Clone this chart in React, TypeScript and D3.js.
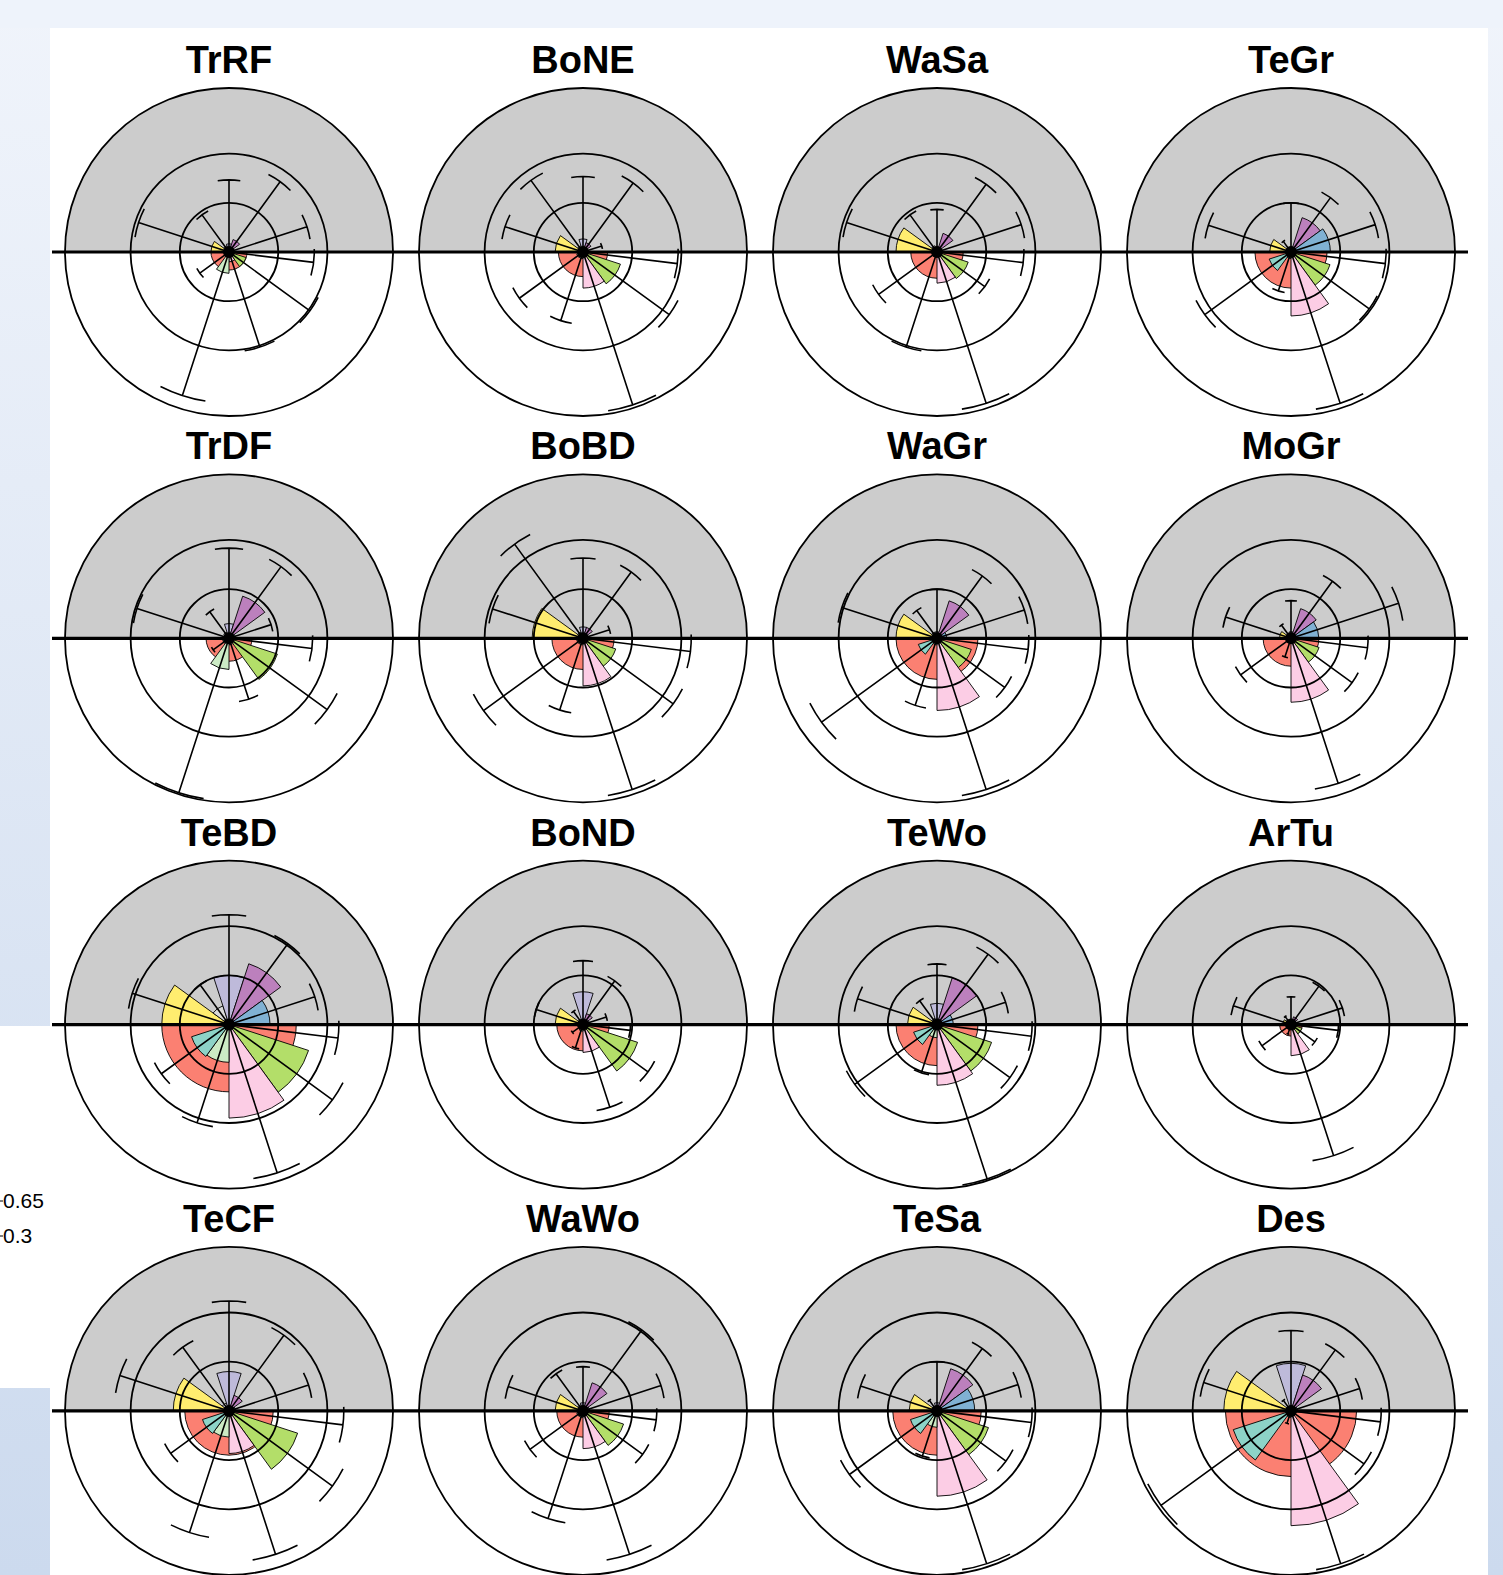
import React from "react";
import * as d3 from "d3";

// biome panels, read left-to-right, top-to-bottom
const biomes = ["TrRF", "BoNE", "WaSa", "TeGr", "TrDF", "BoBD", "WaGr", "MoGr",
  "TeBD", "BoND", "TeWo", "ArTu", "TeCF", "WaWo", "TeSa", "Des"];

// spoke direction (degrees, counter-clockwise from east) and fill of each variable
const varAngles = [162, 126, 90, 54, 18, -7, -36, -72, -108, -144];
const varColors = ["#FFED6F", "#D9D9D9", "#BEBADA", "#BC80BD", "#80B1D3",
  "#FB8072", "#B3DE69", "#FCCDE5", "#CCEBC5", "#8DD3C7"];

// wedge values (mean) per variable, one entry per biome
const yellowMean = [0.11, 0.17, 0.25, 0.13, 0.03, 0.31, 0.25, 0.07, 0.41, 0.17, 0.18, 0.05, 0.34, 0.17, 0.17, 0.41];
const grayMean = [0.04, 0.04, 0.04, 0.03, 0.04, 0.04, 0.04, 0.03, 0.12, 0.03, 0.04, 0.02, 0.05, 0.04, 0.03, 0.03];
const lavenderMean = [0.05, 0.08, 0.03, 0.03, 0.09, 0.07, 0.04, 0.04, 0.30, 0.20, 0.13, 0.03, 0.24, 0.05, 0.05, 0.29];
const purpleMean = [0.08, 0.06, 0.12, 0.22, 0.27, 0.07, 0.24, 0.19, 0.39, 0.07, 0.30, 0.05, 0.10, 0.18, 0.27, 0.23];
const blueMean = [0.03, 0.03, 0.03, 0.24, 0.04, 0.03, 0.06, 0.17, 0.25, 0.04, 0.10, 0.03, 0.04, 0.04, 0.23, 0.04];
const redMean = [0.11, 0.15, 0.16, 0.22, 0.14, 0.19, 0.25, 0.17, 0.41, 0.16, 0.25, 0.07, 0.27, 0.16, 0.27, 0.40];
const greenMean = [0.11, 0.24, 0.20, 0.25, 0.31, 0.21, 0.22, 0.18, 0.51, 0.35, 0.35, 0.07, 0.44, 0.26, 0.33, 0.03];
const pinkMean = [0.06, 0.22, 0.19, 0.39, 0.04, 0.29, 0.44, 0.39, 0.57, 0.17, 0.37, 0.19, 0.26, 0.23, 0.52, 0.70];
const lightGreenMean = [0.13, 0.04, 0.03, 0.04, 0.19, 0.04, 0.04, 0.03, 0.23, 0.04, 0.08, 0.03, 0.16, 0.04, 0.10, 0.04];
const cyanMean = [0.03, 0.04, 0.03, 0.14, 0.04, 0.04, 0.12, 0.03, 0.24, 0.03, 0.15, 0.02, 0.17, 0.04, 0.17, 0.37];

// upper error bar ends per variable
const yellowHigh = [0.58, 0.50, 0.58, 0.53, 0.59, 0.58, 0.61, 0.42, 0.62, 0.30, 0.51, 0.37, 0.70, 0.48, 0.49, 0.56];
const grayHigh = [0.28, 0.54, 0.28, 0.08, 0.20, 0.71, 0.21, 0.10, 0.30, 0.10, 0.18, 0.06, 0.48, 0.28, 0.08, 0.08];
const lavenderHigh = [0.44, 0.46, 0.26, 0.30, 0.55, 0.49, 0.30, 0.23, 0.67, 0.39, 0.37, 0.17, 0.67, 0.27, 0.30, 0.49];
const purpleHigh = [0.53, 0.52, 0.51, 0.41, 0.54, 0.50, 0.47, 0.43, 0.61, 0.33, 0.53, 0.29, 0.57, 0.61, 0.47, 0.46];
const blueHigh = [0.50, 0.12, 0.54, 0.54, 0.27, 0.17, 0.56, 0.69, 0.55, 0.15, 0.44, 0.33, 0.51, 0.50, 0.52, 0.44];
const redHigh = [0.52, 0.58, 0.53, 0.58, 0.51, 0.66, 0.56, 0.47, 0.67, 0.29, 0.58, 0.29, 0.70, 0.45, 0.58, 0.55];
const greenHigh = [0.61, 0.65, 0.36, 0.59, 0.74, 0.68, 0.51, 0.46, 0.78, 0.49, 0.55, 0.18, 0.78, 0.45, 0.52, 0.55];
const pinkHigh = [0.61, 0.98, 0.97, 0.97, 0.39, 0.97, 0.97, 0.93, 0.95, 0.53, 0.99, 0.84, 0.92, 0.92, 0.98, 0.98];
const lightGreenHigh = [0.92, 0.44, 0.61, 0.25, 0.99, 0.46, 0.43, 0.12, 0.63, 0.15, 0.31, 0.06, 0.78, 0.69, 0.29, 0.08];
const cyanHigh = [0.22, 0.48, 0.44, 0.65, 0.12, 0.75, 0.87, 0.38, 0.51, 0.08, 0.62, 0.22, 0.44, 0.40, 0.66, 0.98];

const ringValues = [0.3, 0.6, 1.0];
const sideLabels = ["0.65", "0.3"];

const means = [yellowMean, grayMean, lavenderMean, purpleMean, blueMean,
  redMean, greenMean, pinkMean, lightGreenMean, cyanMean];
const highs = [yellowHigh, grayHigh, lavenderHigh, purpleHigh, blueHigh,
  redHigh, greenHigh, pinkHigh, lightGreenHigh, cyanHigh];

const W = 1503, H = 1575;
const RED = 5; // the red variable is drawn as a half disc under the lower half

const rad = Math.PI / 180;
const toArc = (deg) => (90 - deg) * rad; // d3.arc angle from math angle

function Panel({ idx }) {
  const col = idx % 4, row = Math.floor(idx / 4);
  const cx = 229 + col * 354;
  const cy = 252 + row * 386.3;
  const r = d3.scaleLinear().domain([0, 1]).range([0, 164]);
  const arc = d3.arc();

  const wedge = (v, k) => {
    if (k === RED) {
      return arc({ innerRadius: 0, outerRadius: r(v), startAngle: toArc(0), endAngle: toArc(-180) });
    }
    const a = varAngles[k];
    return arc({ innerRadius: 0, outerRadius: r(v), startAngle: toArc(a + 18), endAngle: toArc(a - 18) });
  };

  const order = [RED, 0, 1, 2, 3, 4, 6, 7, 8, 9];

  const spokes = varAngles.map((a, k) => {
    const R = r(highs[k][idx]);
    const t = -a * rad;
    const p = d3.path();
    p.moveTo(0, 0);
    p.lineTo(R * Math.cos(t), R * Math.sin(t));
    const a0 = -(a + 9) * rad, a1 = -(a - 9) * rad;
    p.moveTo(R * Math.cos(a0), R * Math.sin(a0));
    p.arc(0, 0, R, a0, a1);
    return p.toString();
  });

  return (
    <g>
      <text x={cx} y={cy - 179} textAnchor="middle" fontFamily="'Liberation Sans', Arial, sans-serif"
        fontWeight="bold" fontSize={38} fill="#000">{biomes[idx]}</text>
      <g transform={`translate(${cx},${cy})`}>
        <path d={arc({ innerRadius: 0, outerRadius: r(1), startAngle: toArc(180), endAngle: toArc(0) })}
          fill="#cccccc" />
        {order.map((k) => (
          <path key={k} d={wedge(means[k][idx], k)} fill={varColors[k]} stroke="#000" strokeWidth={0.9} />
        ))}
        {ringValues.map((v) => (
          <circle key={v} r={r(v)} fill="none" stroke="#000" strokeWidth={1.8} />
        ))}
        <line x1={-177} x2={177} y1={0} y2={0} stroke="#000" strokeWidth={3.2} />
        {spokes.map((d, k) => (
          <path key={k} d={d} fill="none" stroke="#000" strokeWidth={1.6} />
        ))}
        <circle r={6} fill="#000" />
      </g>
    </g>
  );
}

export default function App() {
  return (
    <div style={{ position: "absolute", left: 0, top: 0 }}>
      <svg width={W} height={H} style={{ display: "block" }}>
        <defs>
          <linearGradient id="bg" x1="0" y1="0" x2="0" y2="1">
            <stop offset="0" stopColor="#f0f4fb" />
            <stop offset="1" stopColor="#ccdaee" />
          </linearGradient>
        </defs>
        <rect width={W} height={H} fill="url(#bg)" />
        <rect x={0} y={0} width={W} height={28} fill="#eef3fb" />
        <rect x={0} y={1026} width={50} height={362} fill="#fff" />
        {sideLabels.map((s, i) => (
          <g key={s}>
            <line x1={0} x2={3} y1={1201 + i * 35} y2={1201 + i * 35} stroke="#000" strokeWidth={1} />
            <text x={3} y={1208 + i * 35} fontFamily="'Liberation Sans', Arial, sans-serif" fontSize={21}>{s}</text>
          </g>
        ))}
        <rect x={50} y={28} width={1438} height={H - 28} fill="#fff" />
        {biomes.map((b, i) => <Panel key={b} idx={i} />)}
      </svg>
    </div>
  );
}
